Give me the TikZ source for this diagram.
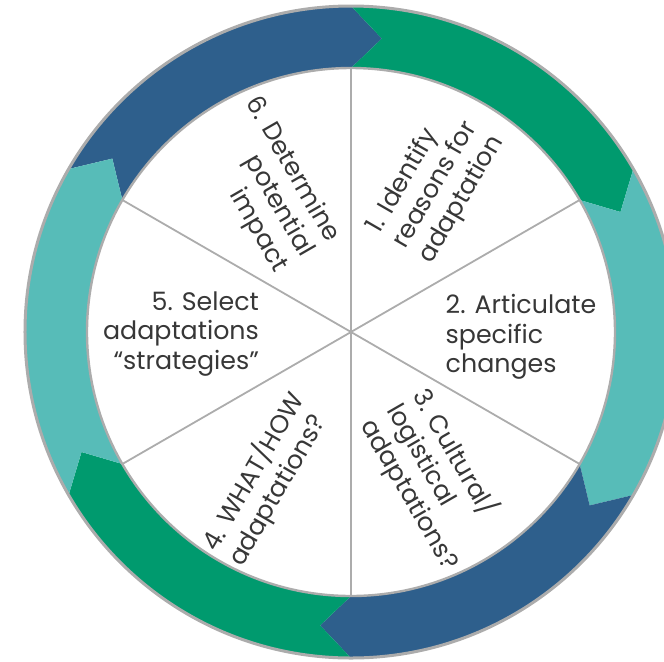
\documentclass[tikz,border=0pt]{standalone}
\usepackage{fontspec}
\setmainfont{Poppins}
\definecolor{ringblue}{RGB}{46,95,140}
\definecolor{ringgreen}{RGB}{0,154,110}
\definecolor{ringteal}{RGB}{87,188,184}
\definecolor{rimgray}{RGB}{172,172,172}
\definecolor{labelgray}{RGB}{55,55,55}
\begin{document}
\begin{tikzpicture}[font=\fontsize{18}{21.3}\selectfont,
    step label/.style={text=labelgray, inner sep=0pt},
    rim/.style={draw=rimgray, line width=0.075cm}]
  \useasboundingbox (-8.775,-8.225) rectangle (7.825,8.3);
  \def\Rout{8.15} \def\Rin{6.6} \def\Rmid{7.375}

  % ring of six arrows
  \foreach \a/\c in {150/ringblue,90/ringgreen,30/ringteal,-30/ringblue,-90/ringgreen,-150/ringteal}
    \fill[\c] (\a:\Rout) arc[start angle=\a, end angle=\a-60, radius=\Rout]
      -- (\a-66:\Rmid) -- (\a-60:\Rin) arc[start angle=\a-60, end angle=\a, radius=\Rin]
      -- (\a-6:\Rmid) -- cycle;

  \coordinate (c) at (0,0);
  \draw[rim] (c) circle (\Rout);
  \draw[rim, line width=0.06cm] (c) circle (\Rin);
  \foreach \a in {90,30,...,-210}
    \draw[rimgray, line width=0.045cm] (c) -- (\a:\Rin);

  % step labels
  \node[step label, rotate=60, align=left] (s1) at (60:4.25) {1. Identify\\reasons for\\adaptation};
  \node[step label, align=left] (s2) at (4.25,-0.12) {2. Articulate\\specific\\changes};
  \node[step label, rotate=-60, align=left] (s3) at (-60:4.25) {3. Cultural/\\logistical\\adaptations?};
  \node[step label, rotate=60, align=left] (s4) at (-120:4.25) {4. WHAT/HOW\\adaptations?};
  \node[step label, align=right] (s5) at (-4.25,-0.05) {5. Select\\adaptations\\``strategies''};
  \node[step label, rotate=-60, align=right] (s6) at (120:4.25) {6. Determine\\potential\\impact};
\end{tikzpicture}
\end{document}
